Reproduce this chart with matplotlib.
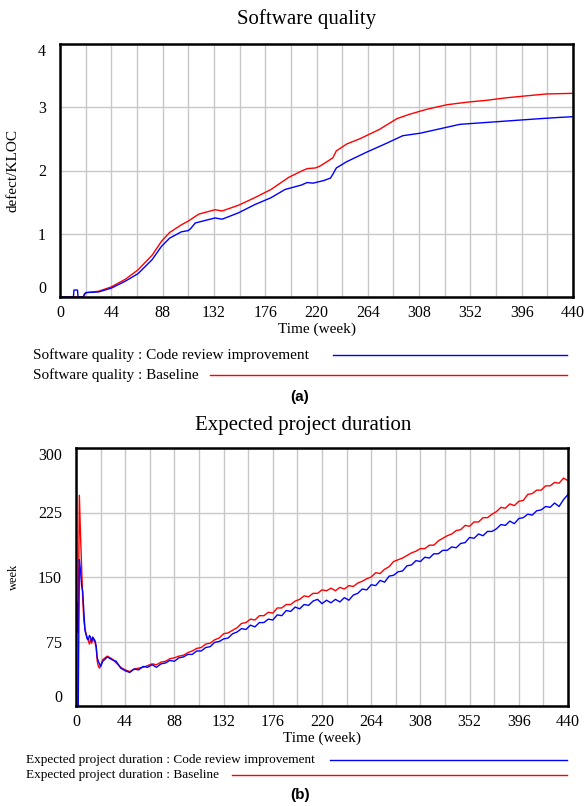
import numpy as np
import matplotlib.pyplot as plt
from matplotlib.lines import Line2D

plt.rcParams['font.family'] = ['Liberation Serif', 'DejaVu Serif']

W, H = 585, 806

# software quality (defect/KLOC)
quality_weeks_cr = [0, 11.5, 12, 15, 15.5, 17, 20, 21, 23, 33, 44, 56, 67, 79, 87, 94, 104,
                    110, 112, 116, 133, 139, 153, 167, 181, 193, 207, 212, 217, 226, 232,
                    234, 237, 246, 263, 280, 294, 309, 326, 343, 366, 389, 412, 429, 440]
quality_cr = [0, 0, 0.11, 0.11, 0, 0, 0, 0.05, 0.07, 0.08, 0.14, 0.25, 0.37, 0.59, 0.80, 0.93,
              1.03, 1.05, 1.08, 1.17, 1.25, 1.23, 1.33, 1.46, 1.57, 1.70, 1.77, 1.81, 1.80,
              1.84, 1.88, 1.94, 2.04, 2.14, 2.29, 2.43, 2.55, 2.59, 2.66, 2.73, 2.76, 2.79,
              2.82, 2.84, 2.85]
quality_weeks_base = [0, 20, 22, 33, 44, 56, 67, 79, 87, 94, 104, 110, 119, 133, 139, 153,
                      167, 181, 196, 207, 212, 219, 223, 229, 234, 237, 246, 257, 274, 289,
                      300, 315, 332, 349, 366, 383, 400, 417, 440]
quality_base = [0, 0, 0.07, 0.09, 0.16, 0.28, 0.43, 0.66, 0.88, 1.02, 1.14, 1.20, 1.31, 1.38,
                1.36, 1.45, 1.57, 1.70, 1.89, 1.99, 2.03, 2.04, 2.07, 2.14, 2.20, 2.31, 2.42,
                2.50, 2.65, 2.82, 2.89, 2.97, 3.04, 3.08, 3.11, 3.15, 3.18, 3.21, 3.22]

# expected project duration (week), bottom panel
dur_weeks = list(range(0, 23)) + list(range(24, 441, 4))
dur_cr = [0, 0, 0, 170, 158, 140, 133, 110, 88, 83, 78, 77, 82, 80, 75, 80, 78, 76, 70, 56,
          52, 49, 46,
          52, 57, 54, 52, 44, 41, 39, 43, 42, 46,
          45, 48, 45, 49, 50, 53, 52, 56, 57, 60,
          60, 64, 64, 68, 69, 74, 75, 78, 79, 84,
          86, 90, 89, 94, 92, 97, 97, 101, 100, 106,
          105, 111, 110, 115, 113, 118, 117, 122, 124, 119,
          123, 120, 124, 121, 126, 123, 129, 131, 136, 135,
          141, 140, 146, 144, 151, 152, 156, 157, 163, 164,
          169, 168, 173, 172, 177, 177, 181, 181, 185, 184,
          189, 190, 196, 195, 200, 198, 203, 203, 206, 211,
          210, 215, 212, 218, 219, 223, 222, 227, 228, 232,
          231, 236, 232, 240, 246]
dur_base = [np.nan, 120, 85, 245, 200, 162, 125, 100, 90, 84, 80, 76, 72, 78, 73, 80, 76, 74,
            68, 52, 46, 44, 47,
            54, 58, 55, 50, 45, 42, 40, 43, 44, 45,
            47, 49, 48, 51, 52, 55, 56, 58, 59, 62,
            64, 67, 68, 72, 73, 77, 79, 84, 85, 88,
            91, 96, 97, 101, 100, 105, 105, 109, 108, 114,
            114, 118, 118, 122, 124, 128, 127, 131, 131, 135,
            134, 137, 134, 138, 136, 140, 139, 143, 145, 148,
            150, 155, 154, 159, 162, 168, 170, 172, 175, 178,
            180, 183, 183, 187, 187, 192, 195, 198, 200, 204,
            205, 210, 209, 214, 214, 219, 219, 223, 226, 231,
            230, 235, 233, 238, 239, 246, 247, 251, 251, 256,
            256, 260, 259, 265, 262]

x_ticks = list(range(0, 441, 44))
quality_ticks = [0, 1, 2, 3, 4]
dur_ticks = [0, 75, 150, 225, 300]

blue = '#0000ff'
red = '#ff0000'


def px_axes(left, top, right, bottom):
    return [left / W, 1 - bottom / H, (right - left) / W, (bottom - top) / H]


def style_axes(ax, yticks, ymax):
    ax.set_xlim(0, 440)
    ax.set_ylim(0, ymax)
    ax.set_xticks(x_ticks)
    ax.set_xticks(list(range(22, 440, 44)), minor=True)
    ax.set_yticks(yticks)
    ax.grid(True, which='both', axis='x', color='#c8c8c8', lw=1)
    ax.grid(True, which='major', axis='y', color='#c8c8c8', lw=1)
    ax.set_axisbelow(True)
    ax.tick_params(which='both', length=0, labelsize=11.5)
    ax.tick_params(axis='x', pad=6)
    ax.tick_params(axis='y', pad=10)
    for s in ax.spines.values():
        s.set_linewidth(1.8)
        s.set_color('black')
    labels = ax.get_yticklabels()
    labels[0].set_va('bottom')
    labels[-1].set_va('top')


def legend_row(y, text, x_line, color, size, x_text):
    fy = 1 - y / H
    fig.text(x_text / W, fy, text, fontsize=size, va='center', ha='left')
    fig.add_artist(Line2D([x_line / W, 567 / W], [fy, fy], color=color, lw=1,
                          transform=fig.transFigure))


fig = plt.figure(figsize=(W / 100, H / 100), dpi=100)

# (a) software quality
ax1 = fig.add_axes(px_axes(60, 44, 573, 297))
ax1.plot(quality_weeks_base, quality_base, color=red, lw=1)
ax1.plot(quality_weeks_cr, quality_cr, color=blue, lw=1)
style_axes(ax1, quality_ticks, 4)
ax1.set_xlabel('Time (week)', fontsize=11, labelpad=1)
ax1.set_ylabel('defect/KLOC', fontsize=11)
ax1.yaxis.set_label_coords(-0.078, 0.5)
fig.text(307 / W, 1 - 19 / H, 'Software quality', fontsize=15, ha='center', va='center')
legend_row(355, 'Software quality : Code review improvement', 333, blue, 11, 33)
legend_row(375, 'Software quality : Baseline', 210, red, 11, 33)
fig.text(300 / W, 1 - 397 / H, '(a)', fontsize=11, fontweight='bold', ha='center',
         va='center', family=['Liberation Sans', 'DejaVu Sans'])

# (b) expected project duration
ax2 = fig.add_axes(px_axes(76, 448, 568, 706))
ax2.plot(dur_weeks, dur_base, color=red, lw=1)
ax2.plot(dur_weeks, dur_cr, color=blue, lw=1)
style_axes(ax2, dur_ticks, 300)
ax2.set_xlabel('Time (week)', fontsize=11, labelpad=1)
ax2.set_ylabel('week', fontsize=9)
ax2.yaxis.set_label_coords(-0.114, 0.5)
fig.text(303 / W, 1 - 425 / H, 'Expected project duration', fontsize=15, ha='center',
         va='center')
legend_row(760, 'Expected project duration : Code review improvement', 330, blue, 9.5, 26)
legend_row(775, 'Expected project duration : Baseline', 232, red, 9.5, 26)
fig.text(300 / W, 1 - 795 / H, '(b)', fontsize=11, fontweight='bold', ha='center',
         va='center', family=['Liberation Sans', 'DejaVu Sans'])

fig.savefig('out.png', dpi=100)
